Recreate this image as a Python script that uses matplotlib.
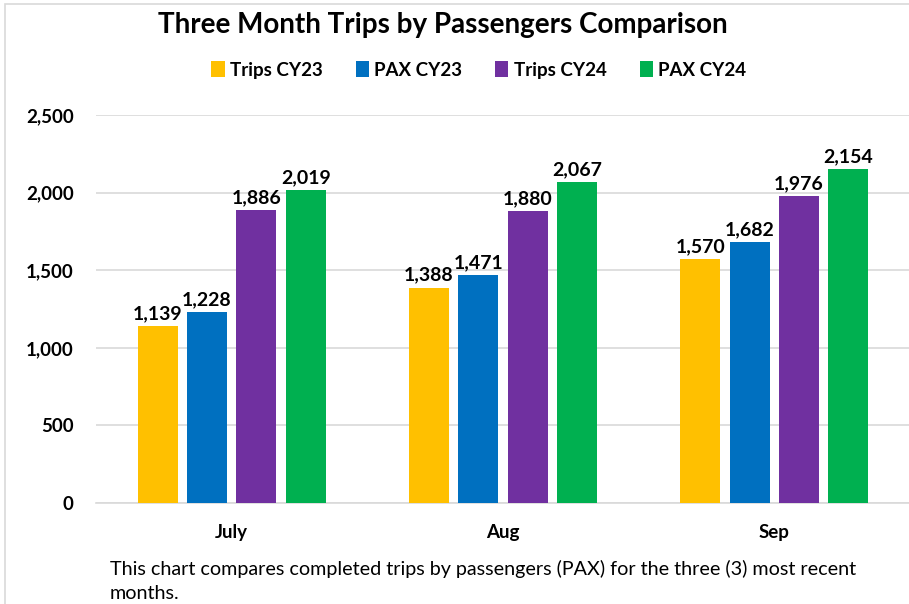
import matplotlib
matplotlib.use("Agg")
import matplotlib.pyplot as plt
from matplotlib.patches import Rectangle, Patch
import numpy as np

categories = ["July", "Aug", "Sep"]
series_names = ["Trips CY23", "PAX CY23", "Trips CY24", "PAX CY24"]
trips_cy23 = [1139, 1388, 1570]
pax_cy23 = [1228, 1471, 1682]
trips_cy24 = [1886, 1880, 1976]
pax_cy24 = [2019, 2067, 2154]
colors = ["#FFC000", "#0070C0", "#7030A0", "#00B050"]
yticks = [0, 500, 1000, 1500, 2000, 2500]

plt.rcParams["font.family"] = ["Lato", "DejaVu Sans"]

W, H = 909, 604
fig = plt.figure(figsize=(W / 100, H / 100), dpi=100)

# chart border
fig.patches.append(Rectangle((5 / W, -0.1), 1.2, 1 - 4 / H + 0.1, transform=fig.transFigure,
                             fill=False, edgecolor="#d9d9d9", lw=1.2))

ax = fig.add_axes([96 / W, 1 - 503 / H, (910 - 96) / W, (503 - 115) / H])
data = [trips_cy23, pax_cy23, trips_cy24, pax_cy24]
x = np.arange(len(categories))
bw = 0.147
step = 0.182
for i, (vals, c) in enumerate(zip(data, colors)):
    off = (i - 1.5) * step
    ax.bar(x + off, vals, width=bw, color=c, zorder=3)
    for xi, v in zip(x + off, vals):
        ax.text(xi, v + 25, f"{v:,}", ha="center", va="bottom", fontsize=14,
                fontweight="bold", zorder=4)

ax.set_xlim(-0.5, 2.5)
ax.set_ylim(0, 2500)
ax.set_yticks(yticks)
ax.set_yticklabels([f"{t:,}" for t in yticks], fontsize=13.5, fontweight="bold")
ax.set_xticks(x)
ax.set_xticklabels(categories, fontsize=13.5, fontweight="bold")
ax.tick_params(axis="both", length=0)
ax.tick_params(axis="y", pad=16)
ax.tick_params(axis="x", pad=15)
ax.grid(axis="y", color="#d9d9d9", lw=1.2, zorder=0)
for s in ["top", "right", "left"]:
    ax.spines[s].set_visible(False)
ax.spines["bottom"].set_color("#d9d9d9")
ax.spines["bottom"].set_linewidth(1.2)

fig.text(443 / W, 1 - 25 / H, "Three Month Trips by Passengers Comparison", ha="center",
         va="center", fontsize=20, fontweight="bold")

handles = [Patch(facecolor=c, edgecolor="none") for c in colors]
fig.legend(handles, series_names, loc="center", bbox_to_anchor=(479 / W, 1 - 70 / H),
           ncol=4, frameon=False, prop={"size": 13.5, "weight": "bold"},
           handlelength=0.7, handleheight=0.9, handletextpad=0.3, columnspacing=1.75)

fig.text(110 / W, 1 - 581 / H,
         "This chart compares completed trips by passengers (PAX) for the three (3) most recent\nmonths.",
         ha="left", va="center", fontsize=14.2, linespacing=1.5)

fig.savefig("out.png", dpi=100)
